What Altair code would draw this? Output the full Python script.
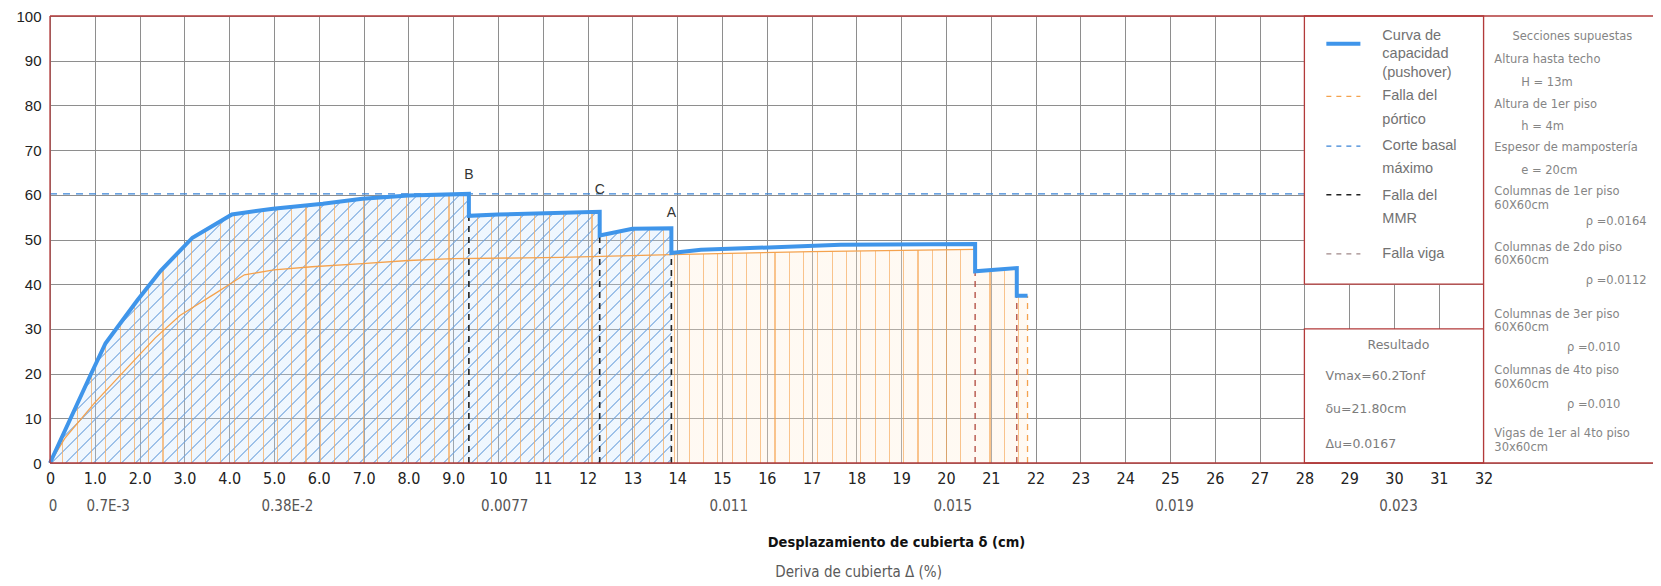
import altair as alt
import pandas as pd

# ---------------- data ----------------
blue_x = [0, 0.91, 1.24, 1.95, 2.47, 3.18, 4.06, 4.98, 6.09, 6.97, 8.0, 9.35, 9.35, 10.0,
          12.27, 12.27, 13.0, 13.87, 13.87, 14.53, 17.65, 20.65, 20.65, 21.58, 21.58, 21.82]
blue_y = [0, 19.8, 26.8, 36.4, 43.0, 50.4, 55.6, 56.9, 58.0, 59.1, 59.85, 60.2, 55.3, 55.6,
          56.2, 50.9, 52.4, 52.5, 47.0, 47.7, 48.8, 49.0, 42.9, 43.6, 37.4, 37.4]
orange_x = [0, 0.33, 1.0, 1.65, 2.35, 2.9, 3.7, 4.34, 5.0, 5.85, 6.97, 8.0, 9.0, 11.4, 13.87, 17.0, 20.65]
orange_y = [0, 5.5, 13.5, 20.5, 28.0, 33.0, 38.0, 42.1, 43.2, 43.9, 44.6, 45.3, 45.7, 46.0, 46.6, 47.3, 47.8]

mmr_x = [9.35, 12.27, 13.87]
mmr_top = [55.3, 50.9, 47.0]
mmr_labels = ["B", "C", "A"]
mmr_label_y = [64.4, 61.1, 55.9]
viga_x = [20.65, 21.58]
viga_top = [42.9, 37.4]
portico_x = [21.82]
portico_top = [37.4]
vmax = 60.2

x_ticks = list(range(0, 33))
y_ticks = list(range(0, 101, 10))
drift_labels = ["0", "0.7E-3", "0.38E-2", "0.0077", "0.011", "0.015", "0.019", "0.023"]
drift_pos = [0.07, 1.3, 5.3, 10.15, 15.15, 20.15, 25.1, 30.1]

legend_labels = ["Curva de", "capacidad", "(pushover)", "Falla del", "pórtico",
                 "Corte basal", "máximo", "Falla del", "MMR", "Falla viga"]
section_lines = ["Secciones supuestas", "Altura hasta techo", "H = 13m", "Altura de 1er piso",
                 "h = 4m", "Espesor de mampostería", "e = 20cm", "Columnas de 1er piso",
                 "60X60cm", "ρ =0.0164", "Columnas de 2do piso", "60X60cm", "ρ =0.0112",
                 "Columnas de 3er piso", "60X60cm", "ρ =0.010", "Columnas de 4to piso",
                 "60X60cm", "ρ =0.010", "Vigas de 1er al 4to piso", "30x60cm"]
result_lines = ["Resultado", "Vmax=60.2Tonf", "δu=21.80cm", "Δu=0.0167"]

# ---------------- layout (annotation positions, in axis units) ----------------
W, H = 1603, 447
XMAX = W / 44.8
PXX = W / XMAX
PXY = H / 100.0

legend_y = [95.5, 91.4, 87.2, 82.0, 76.7, 71.0, 65.8, 59.7, 54.6, 46.8]
section_x = [33.98, 32.24, 32.84, 32.24, 32.84, 32.24, 32.84, 32.24, 32.24, 34.28, 32.24, 32.24,
             34.28, 32.24, 32.24, 33.86, 32.24, 32.24, 33.86, 32.24, 32.24]
section_y = [95.4, 90.2, 85.0, 80.2, 75.2, 70.4, 65.4, 60.6, 57.6, 53.9, 48.1, 45.1, 40.8,
             33.2, 30.2, 25.8, 20.5, 17.5, 12.9, 6.4, 3.4]
section_align = ["center"] + ["left"] * 20
result_x = [30.1, 28.47, 28.47, 28.47]
result_y = [26.4, 19.5, 12.0, 4.3]
result_align = ["center", "left", "left", "left"]

NARROW = "Liberation Sans Narrow, DejaVu Sans Condensed, Liberation Sans"
SANS = "Liberation Sans"
CAD = "DejaVu Sans"
RED = "#b23a3a"
BLUE = "#3f95ea"
ORANGE = "#f4a24e"
GRID = "#8e8e8e"

blue = pd.DataFrame({"x": blue_x, "y": blue_y, "i": range(len(blue_x))})
orange = pd.DataFrame({"x": orange_x, "y": orange_y, "i": range(len(orange_x))})

xs = alt.Scale(domain=[0, XMAX], nice=False, zero=False)
ys = alt.Scale(domain=[0, 100], nice=False)

x_axis = alt.Axis(
    values=x_ticks,
    labelExpr="datum.value == 0 ? '0' : (datum.value < 10 ? format(datum.value, '.1f') : format(datum.value, 'd'))",
    grid=True, gridColor=GRID, gridWidth=1, domain=False, ticks=False,
    labelPadding=7, labelFont=NARROW, labelFontSize=16, labelColor="#222",
    labelFlush=False, labelOverlap=False,
    title="Desplazamiento de cubierta δ (cm)", titleFont=NARROW, titleFontSize=14.5,
    titleFontWeight="bold", titleColor="#111", titleX=846, titleY=79,
    titleAlign="center", titleBaseline="middle", titleAnchor="start")
y_axis = alt.Axis(
    values=y_ticks, grid=True, gridColor=GRID, gridWidth=1, domain=False,
    ticks=False, labelPadding=9, labelFont=SANS, labelFontSize=15,
    labelColor="#222", title="", labelFlush=False)


def X(field="x"):
    return alt.X(field, type="quantitative", scale=xs, axis=x_axis)


def Y(field="y"):
    return alt.Y(field, type="quantitative", scale=ys, stack=None, axis=y_axis)


def diag_gradient(x0, x1, ymax, spacing, lw, bg, fg, phase):
    w = (x1 - x0) * PXX
    h = ymax * PXY
    L = w + h
    a = w * L / (w * w + h * h)
    b = h * L / (w * w + h * h)
    stops = [{"offset": 0, "color": bg}]
    pos = phase
    while pos + lw < L:
        t0, t1 = pos / L, (pos + lw) / L
        stops += [{"offset": t0, "color": bg}, {"offset": t0, "color": fg},
                  {"offset": t1, "color": fg}, {"offset": t1, "color": bg}]
        pos += spacing
    stops.append({"offset": 1, "color": bg})
    return {"gradient": "linear", "x1": 0, "y1": 0, "x2": a, "y2": b, "stops": stops}


def vert_gradient(x0, x1, spacing, lw, bg, fg, phase):
    w = (x1 - x0) * PXX
    stops = [{"offset": 0, "color": bg}]
    pos = phase
    while pos + lw < w:
        t0, t1 = pos / w, (pos + lw) / w
        stops += [{"offset": t0, "color": bg}, {"offset": t0, "color": fg},
                  {"offset": t1, "color": fg}, {"offset": t1, "color": bg}]
        pos += spacing
    stops.append({"offset": 1, "color": bg})
    return {"gradient": "linear", "x1": 0, "y1": 0, "x2": 1, "y2": 0, "stops": stops}


reg1 = blue[blue.x <= 13.87]
reg2 = orange[orange.x >= 13.87]
reg3 = blue[blue.x >= 20.65]

HATCH_O = "rgba(247,172,95,0.72)"
g1 = diag_gradient(0, reg1.x.max(), reg1.y.max(), 14.0, 1.4,
                   "rgba(200,226,252,0.28)", "rgba(125,172,225,0.75)", 4.0)
g1o = vert_gradient(0, reg1.x.max(), 14.3, 1.1, "rgba(255,255,255,0)", HATCH_O, 12.4)
g2 = vert_gradient(reg2.x.min(), reg2.x.max(), 14.3, 1.1, "rgba(255,236,214,0.30)", HATCH_O, 3.0)
g3 = vert_gradient(reg3.x.min(), reg3.x.max(), 14.3, 1.1, "rgba(255,236,214,0.30)", HATCH_O, 14.3)

layers = []
layers.append(alt.Chart(reg1).mark_area(color=g1).encode(x=X(), y=Y()))
layers.append(alt.Chart(reg1).mark_area(color=g1o).encode(x=X(), y=Y()))
layers.append(alt.Chart(reg2).mark_area(color=g2).encode(x=X(), y=Y()))
layers.append(alt.Chart(reg3).mark_area(color=g3).encode(x=X(), y=Y()))

# orange curve (falla del portico)
layers.append(alt.Chart(orange).mark_line(color=ORANGE, strokeWidth=1.3).encode(
    x=X(), y=Y(), order="i:Q"))

# max base shear line
vm = pd.DataFrame({"x": [0], "x2": [28], "y": [vmax]})
layers.append(alt.Chart(vm).mark_rule(color="#3b84d6", strokeWidth=1.1, strokeDash=[7, 6]).encode(
    x=X(), x2="x2:Q", y=Y()))

# failure lines
mmr = pd.DataFrame({"x": mmr_x, "y": [0] * 3, "y2": mmr_top, "label": mmr_labels, "ly": mmr_label_y})
layers.append(alt.Chart(mmr).mark_rule(color="#222", strokeWidth=1.6, strokeDash=[6, 5]).encode(
    x=X(), y=Y(), y2="y2:Q"))
viga = pd.DataFrame({"x": viga_x, "y": [0] * 2, "y2": viga_top})
layers.append(alt.Chart(viga).mark_rule(color="#b0483c", strokeWidth=1.3, strokeDash=[6, 5]).encode(
    x=X(), y=Y(), y2="y2:Q"))
port = pd.DataFrame({"x": portico_x, "y": [0], "y2": portico_top})
layers.append(alt.Chart(port).mark_rule(color=ORANGE, strokeWidth=1.3, strokeDash=[6, 5]).encode(
    x=X(), y=Y(), y2="y2:Q"))

# capacity curve
layers.append(alt.Chart(blue).mark_line(color=BLUE, strokeWidth=4, strokeJoin="miter").encode(
    x=X(), y=Y(), order="i:Q"))

layers.append(alt.Chart(mmr).mark_text(font=SANS, fontSize=14, color="#333", baseline="middle").encode(
    x=X(), y=Y("ly"), text="label:N"))

# boxes
boxes_stroked = pd.DataFrame({"x": [28, 28], "x2": [32, 32], "y": [40, 0], "y2": [100, 30]})
layers.append(alt.Chart(boxes_stroked).mark_rect(fill="white", stroke=RED, strokeWidth=1.3).encode(
    x=X(), x2="x2:Q", y=Y(), y2="y2:Q"))
rbox = pd.DataFrame({"x": [32], "x2": [XMAX], "y": [0], "y2": [100]})
layers.append(alt.Chart(rbox).mark_rect(fill="white").encode(x=X(), x2="x2:Q", y=Y(), y2="y2:Q"))

frame_h = pd.DataFrame({"x": [0, 0], "x2": [XMAX, XMAX], "y": [0, 100]})
layers.append(alt.Chart(frame_h).mark_rule(color=RED, strokeWidth=1.3).encode(
    x=X(), x2="x2:Q", y=Y()))
frame_v = pd.DataFrame({"x": [0, 32], "y": [0, 0], "y2": [100, 100]})
layers.append(alt.Chart(frame_v).mark_rule(color=RED, strokeWidth=1.3).encode(
    x=X(), y=Y(), y2="y2:Q"))

# legend samples
samples = [
    (93.8, BLUE, 4, [1, 0]),
    (82.0, ORANGE, 1.3, [5, 5]),
    (70.9, "#3b84d6", 1.3, [5, 5]),
    (60.0, "#222", 1.5, [5, 5]),
    (46.8, "#a08888", 1.3, [5, 5]),
]
for sy, col, sw, dash in samples:
    sd = pd.DataFrame({"x": [28.49], "x2": [29.25], "y": [sy]})
    layers.append(alt.Chart(sd).mark_rule(color=col, strokeWidth=sw, strokeDash=dash).encode(
        x=X(), x2="x2:Q", y=Y()))

leg = pd.DataFrame({"x": [29.74] * len(legend_labels), "y": legend_y, "t": legend_labels})
layers.append(alt.Chart(leg).mark_text(font=SANS, fontSize=14.5, color="#727272", align="left",
                                       baseline="middle").encode(x=X(), y=Y(), text="t:N"))

sec = pd.DataFrame({"x": section_x, "y": section_y, "t": section_lines, "a": section_align})
for al in ["left", "center"]:
    layers.append(alt.Chart(sec[sec.a == al]).mark_text(font=CAD, fontSize=11.5, color="#858585",
                                                        align=al, baseline="middle").encode(
        x=X(), y=Y(), text="t:N"))

res = pd.DataFrame({"x": result_x, "y": result_y, "t": result_lines, "a": result_align})
for al in ["left", "center"]:
    layers.append(alt.Chart(res[res.a == al]).mark_text(font=CAD, fontSize=12.5, color="#7c7c7c",
                                                        align=al, baseline="middle").encode(
        x=X(), y=Y(), text="t:N"))

# drift (second x label row) and its title
drift = pd.DataFrame({"x": drift_pos, "y": [0] * len(drift_pos), "t": drift_labels})
layers.append(alt.Chart(drift).mark_text(font=NARROW, fontSize=15, color="#555", dy=43,
                                         baseline="middle").encode(x=X(), y=Y(), text="t:N"))
dt = pd.DataFrame({"x": [18.05], "y": [0], "t": ["Deriva de cubierta Δ (%)"]})
layers.append(alt.Chart(dt).mark_text(font=NARROW, fontSize=15, color="#5a5a5a", dy=109,
                                      baseline="middle").encode(x=X(), y=Y(), text="t:N"))

chart = alt.layer(*layers).properties(
    width=W, height=H,
    padding={"left": 42, "top": 8, "right": 0, "bottom": 122},
    autosize=alt.AutoSizeParams(type="none"),
    background="white",
).configure_view(strokeWidth=0)

chart.save("out.html", embed_options={"renderer": "svg", "actions": False})
